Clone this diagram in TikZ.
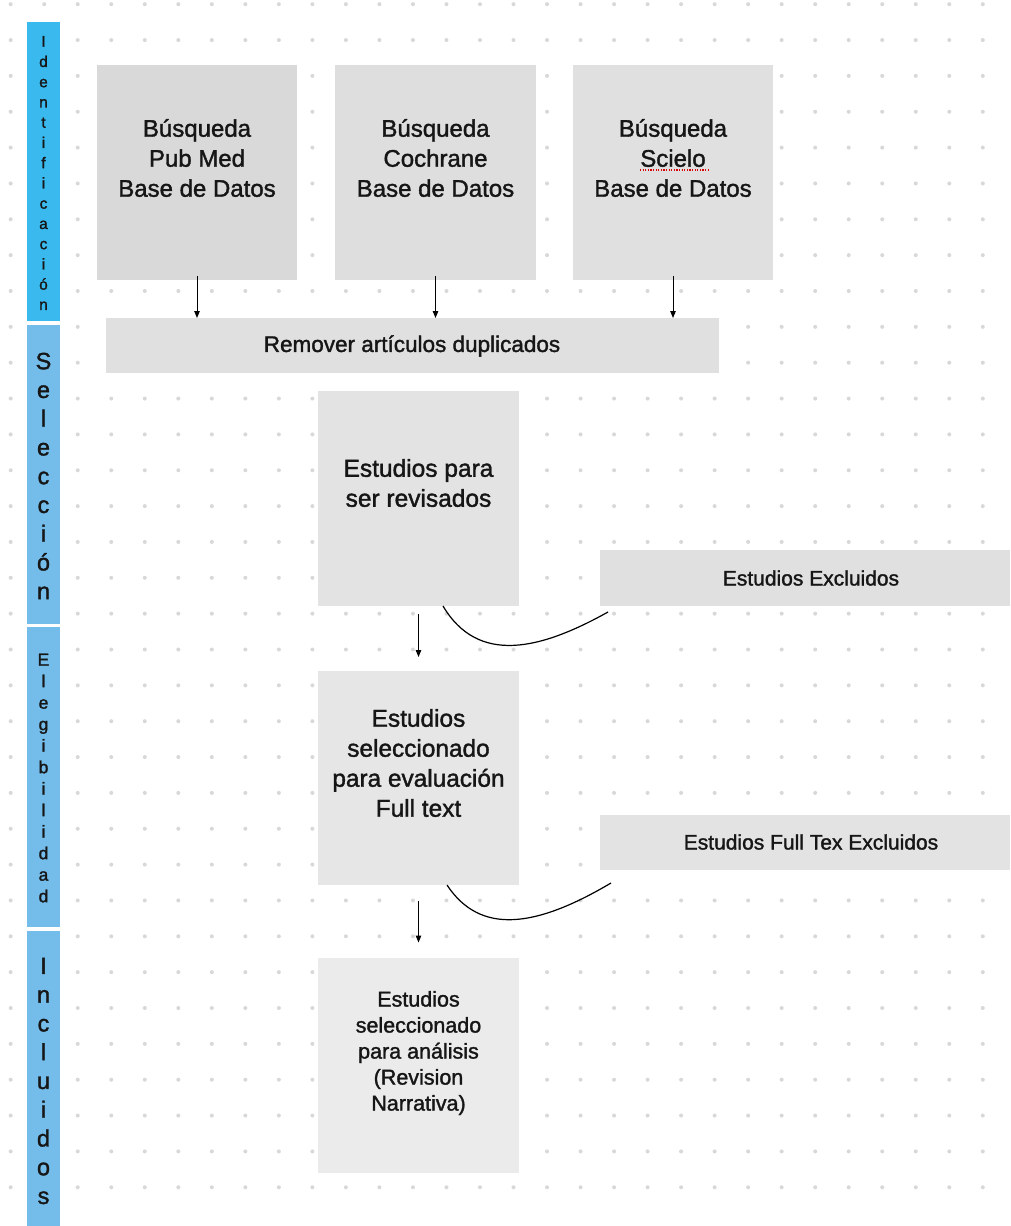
\documentclass[tikz,border=0pt]{standalone}
\usepackage{fontspec}
\setmainfont{Liberation Sans}[FakeBold=1.5]
\usetikzlibrary{arrows.meta,calc}
\definecolor{idblue}{RGB}{58,185,238}
\definecolor{secblue}{RGB}{116,189,235}
\definecolor{dotc}{RGB}{216,216,216}
\definecolor{gA}{RGB}{217,217,217}
\definecolor{gB}{RGB}{222,222,222}
\definecolor{gC}{RGB}{224,224,224}
\definecolor{gD}{RGB}{227,227,227}
\definecolor{gE}{RGB}{230,230,230}
\definecolor{gF}{RGB}{235,235,235}
\definecolor{txt}{RGB}{22,22,22}
\begin{document}
\begin{tikzpicture}[x=1pt,y=-1pt,
  box/.style={rectangle, draw=none, inner sep=0pt, outer sep=0pt},
  lbl/.style={align=center, inner sep=0pt, text=txt},
  side/.style={align=center, inner sep=0pt, text=txt},
  arr/.style={-{Triangle[length=7pt,width=5.5pt]}, line width=1pt},
  curv/.style={line width=1.2pt}]
\useasboundingbox (0,0) rectangle (1010,1226);
\fill[white] (0,0) rectangle (1010,1226);
% dot grid
\foreach \i in {0,...,29}{
  \foreach \j in {0,...,33}{
    \fill[dotc] (10.7+33.52*\i, 4.2+35.85*\j) circle (2pt);
  }
}
% side bars
\node[box, fill=idblue, minimum width=33pt, minimum height=299pt] (sid) at (43.5,171.5) {};
\node[box, fill=secblue, minimum width=33pt, minimum height=299.6pt] (ssel) at (43.5,474.5) {};
\node[box, fill=secblue, minimum width=33pt, minimum height=299.4pt] (seleg) at (43.5,777) {};
\node[box, fill=secblue, minimum width=33pt, minimum height=296pt] (sinc) at (43.5,1079) {};
\node[side, font=\fontsize{15.5}{20.25}\selectfont] (tid) at (43.5,173) {I\\d\\e\\n\\t\\i\\f\\i\\c\\a\\c\\i\\ó\\n};
\node[side, font=\fontsize{23.5}{28.75}\selectfont] (tsel) at (43.5,476) {S\\e\\l\\e\\c\\c\\i\\ó\\n};
\node[side, font=\fontsize{17.5}{21.5}\selectfont] (teleg) at (43.5,778) {E\\l\\e\\g\\i\\b\\i\\l\\i\\d\\a\\d};
\node[side, font=\fontsize{23.5}{28.75}\selectfont] (tinc) at (43.5,1081) {I\\n\\c\\l\\u\\i\\d\\o\\s};
% top boxes
\node[box, fill=gA, minimum width=200.6pt, minimum height=215pt] (b1) at (197,172.5) {};
\node[box, fill=gB, minimum width=201pt, minimum height=215pt] (b2) at (435.5,172.5) {};
\node[box, fill=gC, minimum width=200.6pt, minimum height=215pt] (b3) at (673,172.5) {};
\node[lbl, font=\fontsize{24}{30}\selectfont] (t1) at (197,158) {Búsqueda\\Pub Med\\Base de Datos};
\node[lbl, font=\fontsize{24}{30}\selectfont] (t2) at (435.5,158) {Búsqueda\\Cochrane\\Base de Datos};
\node[lbl, font=\fontsize{24}{30}\selectfont] (t3) at (673,158) {Búsqueda\\Scielo\\Base de Datos};
\draw[red!85!black, line width=1.4pt, dash pattern=on 1.2pt off 1.4pt] (640,170) -- (708,170);
% remove duplicates
\node[box, fill=gC, minimum width=613pt, minimum height=55pt] (rem) at (412.5,345.5) {};
\node[lbl, font=\fontsize{22.5}{26}\selectfont] (trem) at (412,346) {Remover artículos duplicados};
% review
\node[box, fill=gD, minimum width=201pt, minimum height=215pt] (est) at (418.5,498.5) {};
\node[lbl, font=\fontsize{24.5}{30}\selectfont] (test) at (418.5,483) {Estudios para\\ser revisados};
\node[box, fill=gC, minimum width=410pt, minimum height=56pt] (exc) at (805,578) {};
\node[lbl, font=\fontsize{21}{26}\selectfont] (texc) at (811,578) {Estudios Excluidos};
% full text
\node[box, fill=gE, minimum width=201pt, minimum height=214pt] (full) at (418.5,778) {};
\node[lbl, font=\fontsize{24.4}{30}\selectfont] (tfull) at (418.5,763) {Estudios\\seleccionado\\para evaluación\\Full text};
\node[box, fill=gD, minimum width=410pt, minimum height=55pt] (fexc) at (805,842.5) {};
\node[lbl, font=\fontsize{21}{26}\selectfont] (tfexc) at (811,842) {Estudios Full Tex Excluidos};
% included
\node[box, fill=gF, minimum width=201pt, minimum height=215pt] (inc) at (418.5,1065) {};
\node[lbl, font=\fontsize{21.5}{26}\selectfont] (tinc2) at (418.5,1053) {Estudios\\seleccionado\\para análisis\\(Revision\\Narrativa)};
% arrows
\draw[arr] ([yshift=4pt]b1.south) -- (b1.south |- rem.north);
\draw[arr] ([yshift=4pt]b2.south) -- (b2.south |- rem.north);
\draw[arr] ([yshift=4pt]b3.south) -- (b3.south |- rem.north);
\draw[arr] ([yshift=-8pt]est.south) -- ([yshift=14pt]full.north);
\draw[arr] ([yshift=-16pt]full.south) -- ([yshift=15pt]inc.north);
% curves
\coordinate (c1s) at ($(est.south)+(24.5,0)$);
\coordinate (c1e) at ($(exc.south west)+(8,6)$);
\draw[curv] (c1s) .. controls (478,665) and (540,650) .. (c1e);
\coordinate (c2s) at ($(full.south)+(28.5,0)$);
\coordinate (c2e) at ($(fexc.south west)+(11,13)$);
\draw[curv] (c2s) .. controls (480,935) and (535,928) .. (c2e);
\end{tikzpicture}
\end{document}
